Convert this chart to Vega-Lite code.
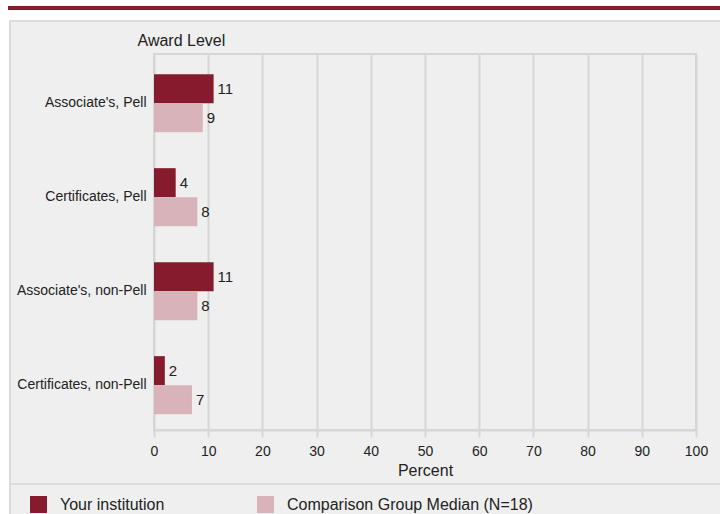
{
  "$schema": "https://vega.github.io/schema/vega-lite/v6.json",
  "background": "#efefef",
  "padding": 0,
  "spacing": 0,
  "config": {
    "font": "Liberation Sans",
    "concat": {"spacing": 0},
    "view": {"stroke": null},
    "legend": {
      "orient": "none",
      "legendX": 30,
      "legendY": 496,
      "direction": "horizontal",
      "symbolType": "square",
      "symbolSize": 289,
      "symbolStrokeWidth": 0,
      "symbolOpacity": 1,
      "labelFontSize": 16,
      "labelColor": "#222222",
      "labelOffset": 13,
      "columnPadding": 92,
      "labelLimit": 400,
      "title": null
    }
  },
  "vconcat": [
    {"width": 720, "height": 6, "data": {"values": []}, "mark": "rect", "encoding": {}, "view": {"fill": "#ffffff", "stroke": null}},
    {
      "spacing": 0,
      "hconcat": [
        {"width": 8, "height": 4, "data": {"values": []}, "mark": "rect", "encoding": {}, "view": {"fill": "#ffffff", "stroke": null}},
        {"width": 712, "height": 4, "data": {"values": []}, "mark": "rect", "encoding": {}, "view": {"fill": "#861b2e", "stroke": null}}
      ]
    },
    {"width": 720, "height": 10, "data": {"values": []}, "mark": "rect", "encoding": {}, "view": {"fill": "#ffffff", "stroke": null}},
    {
      "spacing": 0,
      "hconcat": [
        {"width": 9, "height": 494, "data": {"values": []}, "mark": "rect", "encoding": {}, "view": {"fill": "#ffffff", "stroke": null}},
        {"width": 2, "height": 494, "data": {"values": []}, "mark": "rect", "encoding": {}, "view": {"fill": "#dcdcdc", "stroke": null}},
        {
          "spacing": 0,
          "vconcat": [
            {"width": 709, "height": 2, "data": {"values": []}, "mark": "rect", "encoding": {}, "view": {"fill": "#dcdcdc", "stroke": null}},
            {"width": 709, "height": 9, "data": {"values": []}, "mark": "rect", "encoding": {}, "view": {"stroke": null}},
            {
              "spacing": 0,
              "bounds": "flush",
              "hconcat": [
                {"width": 143, "height": 376, "data": {"values": []}, "mark": "rect", "encoding": {}, "view": {"stroke": null}},
                {
                  "width": 542,
                  "height": 376,
                  "view": {"stroke": "#d6d6d6", "strokeWidth": 2, "fill": null},
                  "data": {
                    "values": [
                      {"level": "Associate's, Pell", "group": "Your institution", "value": 11},
                      {"level": "Associate's, Pell", "group": "Comparison Group Median (N=18)", "value": 9},
                      {"level": "Certificates, Pell", "group": "Your institution", "value": 4},
                      {"level": "Certificates, Pell", "group": "Comparison Group Median (N=18)", "value": 8},
                      {"level": "Associate's, non-Pell", "group": "Your institution", "value": 11},
                      {"level": "Associate's, non-Pell", "group": "Comparison Group Median (N=18)", "value": 8},
                      {"level": "Certificates, non-Pell", "group": "Your institution", "value": 2},
                      {"level": "Certificates, non-Pell", "group": "Comparison Group Median (N=18)", "value": 7}
                    ]
                  },
                  "encoding": {
                    "y": {
                      "field": "level",
                      "type": "nominal",
                      "sort": ["Associate's, Pell", "Certificates, Pell", "Associate's, non-Pell", "Certificates, non-Pell"],
                      "scale": {"paddingInner": 0.383, "paddingOuter": 0.1915, "align": 0.56},
                      "axis": {
                        "title": "Award Level",
                        "titleAngle": 0,
                        "titleAlign": "left",
                        "titleBaseline": "alphabetic",
                        "titleX": -17,
                        "titleY": -9,
                        "titleFontSize": 16,
                        "titleFontWeight": "normal",
                        "titleColor": "#222222",
                        "labelFontSize": 14,
                        "labelColor": "#222222",
                        "labelPadding": 8,
                        "ticks": false,
                        "domain": false,
                        "grid": false
                      }
                    },
                    "yOffset": {
                      "field": "group",
                      "type": "nominal",
                      "sort": ["Your institution", "Comparison Group Median (N=18)"],
                      "scale": {"paddingInner": 0, "paddingOuter": 0}
                    },
                    "x": {
                      "field": "value",
                      "type": "quantitative",
                      "scale": {"domain": [0, 100], "nice": false},
                      "axis": {
                        "title": "Percent",
                        "values": [0, 10, 20, 30, 40, 50, 60, 70, 80, 90, 100],
                        "grid": true,
                        "gridColor": "#d6d6d6",
                        "gridWidth": 2,
                        "domainColor": "#d6d6d6",
                        "domainWidth": 2,
                        "tickColor": "#d6d6d6",
                        "tickWidth": 2,
                        "tickSize": 7,
                        "labelFlush": false,
                        "labelFontSize": 14,
                        "labelColor": "#222222",
                        "labelPadding": 7,
                        "titleFontSize": 16,
                        "titleFontWeight": "normal",
                        "titleColor": "#222222",
                        "titlePadding": 4
                      }
                    }
                  },
                  "layer": [
                    {
                      "mark": {"type": "bar"},
                      "encoding": {
                        "color": {
                          "field": "group",
                          "type": "nominal",
                          "sort": ["Your institution", "Comparison Group Median (N=18)"],
                          "scale": {"domain": ["Your institution", "Comparison Group Median (N=18)"], "range": ["#861b2e", "#d8b3ba"]}
                        }
                      }
                    },
                    {
                      "mark": {"type": "text", "align": "left", "baseline": "middle", "dx": 4, "fontSize": 15, "color": "#222222"},
                      "encoding": {"text": {"field": "value", "type": "quantitative"}}
                    }
                  ]
                }
              ]
            },
            {"width": 709, "height": 4, "data": {"values": []}, "mark": "rect", "encoding": {}, "view": {"stroke": null}},
            {"width": 709, "height": 2, "data": {"values": []}, "mark": "rect", "encoding": {}, "view": {"fill": "#dcdcdc", "stroke": null}}
          ]
        }
      ]
    }
  ]
}
